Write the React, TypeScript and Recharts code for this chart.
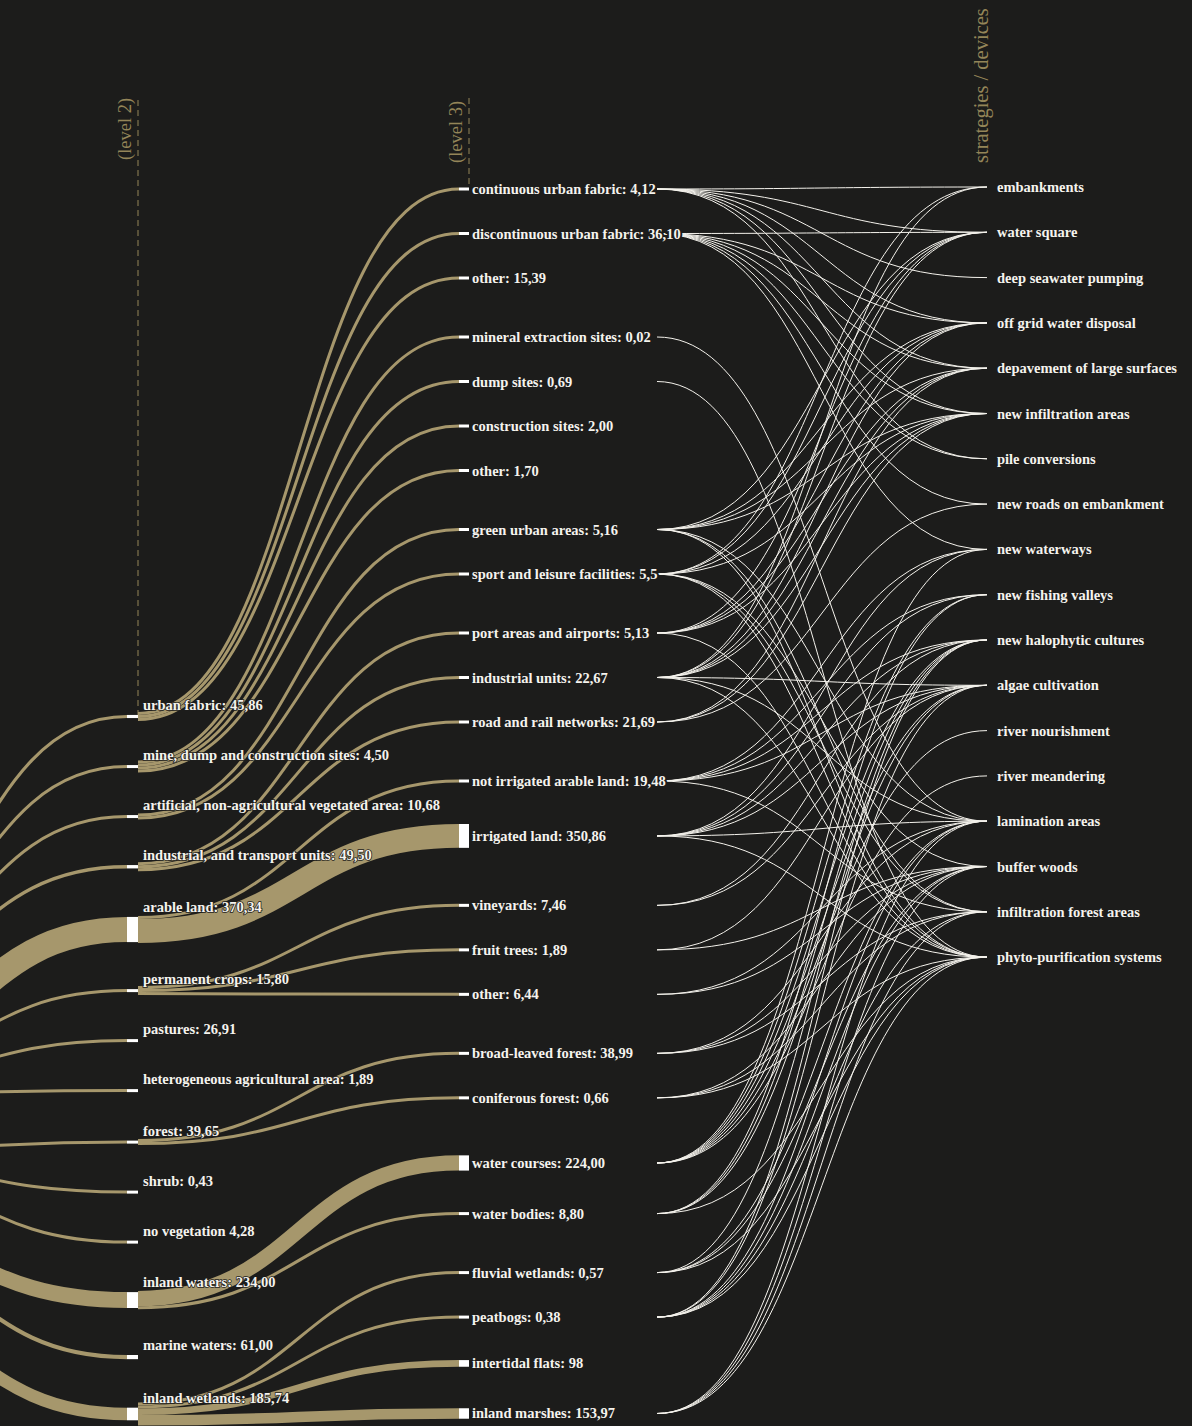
import React from "react";
import {
  ComposedChart,
  Line,
  ReferenceArea,
  ReferenceLine,
  Scatter,
  XAxis,
  YAxis
} from "recharts";

const W = 1192;
const H = 1426;
const BG = "#1c1c1b";
const TAN = "#a6976c";
const HEAD = "#948558";
const FONT = "'Liberation Serif', 'DejaVu Serif', serif";

// level 1 (off screen on the left, only its links show)
const level1Names = [
  "artificial surfaces",
  "agricultural areas",
  "forest and semi natural areas",
  "water bodies",
  "wetlands"
];

const level2Names = [
  "urban fabric",
  "mine, dump and construction sites",
  "artificial, non-agricultural vegetated area",
  "industrial,  and transport units",
  "arable land",
  "permanent crops",
  "pastures",
  "heterogeneous agricultural area",
  "forest",
  "shrub",
  "no vegetation",
  "inland waters",
  "marine waters",
  "inland wetlands"
];
const level2Values = [
  "45,86", "4,50", "10,68", "49,50", "370,34", "15,80", "26,91",
  "1,89", "39,65", "0,43", "4,28", "234,00", "61,00", "185,74"
];
const level2Parents = [0, 0, 0, 0, 1, 1, 1, 1, 2, 2, 2, 3, 3, 4];

const level3Names = [
  "continuous urban fabric",
  "discontinuous urban fabric",
  "other",
  "mineral extraction sites",
  "dump sites",
  "construction sites",
  "other",
  "green urban areas",
  "sport and leisure facilities",
  "port areas and airports",
  "industrial units",
  "road and rail networks",
  "not irrigated arable land",
  "irrigated land",
  "vineyards",
  "fruit trees",
  "other",
  "broad-leaved forest",
  "coniferous forest",
  "water courses",
  "water bodies",
  "fluvial wetlands",
  "peatbogs",
  "intertidal flats",
  "inland marshes"
];
const level3Values = [
  "4,12", "36,10", "15,39", "0,02", "0,69", "2,00", "1,70", "5,16", "5,5",
  "5,13", "22,67", "21,69", "19,48", "350,86", "7,46", "1,89", "6,44",
  "38,99", "0,66", "224,00", "8,80", "0,57", "0,38", "98", "153,97"
];
const level3Parents = [
  0, 0, 0, 1, 1, 1, 1, 2, 2, 3, 3, 3, 4, 4, 5, 5, 5, 8, 8, 11, 11, 13, 13, 13, 13
];

const strategyNames = [
  "embankments",
  "water square",
  "deep seawater pumping",
  "off grid water disposal",
  "depavement of large surfaces",
  "new infiltration areas",
  "pile conversions",
  "new roads on embankment",
  "new waterways",
  "new fishing valleys",
  "new halophytic cultures",
  "algae cultivation",
  "river nourishment",
  "river meandering",
  "lamination areas",
  "buffer woods",
  "infiltration forest areas",
  "phyto-purification systems"
];

// level 3 index -> strategy indices
const strategyLinks: number[][] = [
  [0, 1, 2, 3, 4, 5, 6],
  [1, 3, 4, 5, 6, 7, 8],
  [],
  [14],
  [17],
  [],
  [],
  [1, 3, 4, 5, 14, 16, 17],
  [0, 1, 3, 5, 15, 16, 17],
  [1, 3, 4, 5, 17],
  [0, 1, 3, 4, 5, 11, 14, 17],
  [4, 5, 7],
  [8, 9, 10, 11, 16],
  [8, 9, 10, 11, 14, 17],
  [10, 11],
  [11, 15],
  [14, 15],
  [14, 15, 16],
  [15, 16, 17],
  [8, 9, 10, 11, 12, 13],
  [9, 10, 11, 17],
  [10, 14, 15, 17],
  [10, 11, 14, 15, 16, 17],
  [],
  [14, 15, 16, 17]
];

// layout
const K = 0.068;
const MIN_W = 3;
const X1 = -193;
const X2A = 127;
const X2B = 138;
const X3A = 459;
const X3B = 469;
const XS0 = 657;
const XS1 = 987;

const num = (s: string) => parseFloat(s.replace(",", "."));
const thick = (v: number) => Math.max(MIN_W, v * K);

function stack(heights: number[], groups: number[], start: number, pad: number, gap: number) {
  const centers: number[] = [];
  heights.forEach((h, i) => {
    if (i === 0) centers.push(start);
    else {
      const g = groups[i] !== groups[i - 1] ? gap : 0;
      centers.push(centers[i - 1] + heights[i - 1] / 2 + pad + g + h / 2);
    }
  });
  return centers;
}

const h2 = level2Values.map((v) => thick(num(v)));
const c2 = stack(h2, level2Parents, 716.5, 47, 1.5);
const h3 = level3Values.map((v) => thick(num(v)));
const c3 = stack(h3, level3Parents, 189, 41.5, 14.5);
const cs = stack(strategyNames.map(() => 0), strategyNames.map(() => 0), 187, 45.3, 0);
const h1 = level1Names.map((_, i) =>
  h2.reduce((sum, h, j) => (level2Parents[j] === i ? sum + h : sum), 0)
);
const c1 = stack(h1, level1Names.map((_, i) => i), 1000, 55, 0);

type Link = { key: string; pts: { x: number; y: number }[]; w: number; color: string };
const links: Link[] = [];

// level 1 -> level 2
const used1 = h1.map(() => 0);
level2Names.forEach((_, j) => {
  const p = level2Parents[j];
  const y0 = c1[p] - h1[p] / 2 + used1[p] + h2[j] / 2;
  used1[p] += h2[j];
  links.push({ key: `a${j}`, pts: [{ x: X1, y: y0 }, { x: X2A, y: c2[j] }], w: h2[j], color: TAN });
});

// level 2 -> level 3
const out2 = h2.map((_, i) =>
  h3.reduce((sum, h, j) => (level3Parents[j] === i ? sum + h : sum), 0)
);
const used2 = h2.map(() => 0);
level3Names.forEach((_, j) => {
  const p = level3Parents[j];
  const y0 = c2[p] - out2[p] / 2 + used2[p] + h3[j] / 2;
  used2[p] += h3[j];
  links.push({ key: `b${j}`, pts: [{ x: X2B, y: y0 }, { x: X3A, y: c3[j] }], w: h3[j], color: TAN });
});

// level 3 -> strategies
strategyLinks.forEach((targets, j) =>
  targets.forEach((s) =>
    links.push({ key: `c${j}-${s}`, pts: [{ x: XS0, y: c3[j] }, { x: XS1, y: cs[s] }], w: 1, color: "#f4f2ec" })
  )
);

const level2Points = level2Names.map((n, i) => ({
  x: X2B + 5,
  y: c2[i] - h2[i] / 2 - 10,
  label: n === "no vegetation" ? `${n} ${level2Values[i]}` : `${n}: ${level2Values[i]}`
}));
const level3Points = level3Names.map((n, i) => ({ x: X3B + 3, y: c3[i], label: `${n}: ${level3Values[i]}` }));
const strategyPoints = strategyNames.map((n, i) => ({ x: XS1 + 10, y: cs[i], label: n }));
const headerPoints = [
  { x: X2B - 7, y: 160, label: "(level 2)", size: 18.5 },
  { x: X3B - 7, y: 163, label: "(level 3)", size: 18.5 },
  { x: XS1 + 1, y: 163, label: "strategies / devices", size: 20.5 }
];

const labelShape = (halo: number) => (props: any) => (
  <text
    x={props.cx}
    y={props.cy}
    dominantBaseline="central"
    fill="#f5f3ee"
    stroke={BG}
    strokeWidth={halo}
    paintOrder="stroke"
    fontFamily={FONT}
    fontSize={14.5}
    fontWeight={700}
  >
    {props.payload.label}
  </text>
);

const headerShape = (props: any) => (
  <text
    x={props.cx}
    y={props.cy}
    transform={`rotate(-90 ${props.cx} ${props.cy})`}
    fill={HEAD}
    fontFamily={FONT}
    fontSize={props.payload.size}
  >
    {props.payload.label}
  </text>
);

export default function App() {
  return (
    <div style={{ width: W, height: H, background: BG }}>
      <style>{`body{margin:0;background:${BG}}`}</style>
      <ComposedChart width={W} height={H} margin={{ top: 0, right: 0, bottom: 0, left: 0 }}>
        <XAxis type="number" dataKey="x" domain={[0, W]} hide allowDataOverflow />
        <YAxis type="number" dataKey="y" domain={[0, H]} reversed hide allowDataOverflow />
        <ReferenceLine
          segment={[{ x: X2B, y: 100 }, { x: X2B, y: c2[0] - h2[0] / 2 }]}
          stroke={HEAD}
          strokeDasharray="6 4"
          ifOverflow="visible"
        />
        <ReferenceLine
          segment={[{ x: X3B, y: 98 }, { x: X3B, y: c3[0] - h3[0] / 2 }]}
          stroke={HEAD}
          strokeDasharray="6 4"
          ifOverflow="visible"
        />
        {links.map((l) => (
          <Line
            key={l.key}
            data={l.pts}
            dataKey="y"
            type="bumpX"
            stroke={l.color}
            strokeWidth={l.w}
            dot={false}
            activeDot={false}
            isAnimationActive={false}
          />
        ))}
        {level2Names.map((n, i) => (
          <ReferenceArea
            key={`n2${i}`}
            x1={X2A}
            x2={X2B}
            y1={c2[i] - h2[i] / 2}
            y2={c2[i] + h2[i] / 2}
            fill="#ffffff"
            fillOpacity={1}
            ifOverflow="visible"
          />
        ))}
        {level3Names.map((n, i) => (
          <ReferenceArea
            key={`n3${i}`}
            x1={X3A}
            x2={X3B}
            y1={c3[i] - h3[i] / 2}
            y2={c3[i] + h3[i] / 2}
            fill="#ffffff"
            fillOpacity={1}
            ifOverflow="visible"
          />
        ))}
        <Scatter data={level2Points} shape={labelShape(1.5)} isAnimationActive={false} />
        <Scatter data={level3Points} shape={labelShape(4)} isAnimationActive={false} />
        <Scatter data={strategyPoints} shape={labelShape(0)} isAnimationActive={false} />
        <Scatter data={headerPoints} shape={headerShape} isAnimationActive={false} />
      </ComposedChart>
    </div>
  );
}
